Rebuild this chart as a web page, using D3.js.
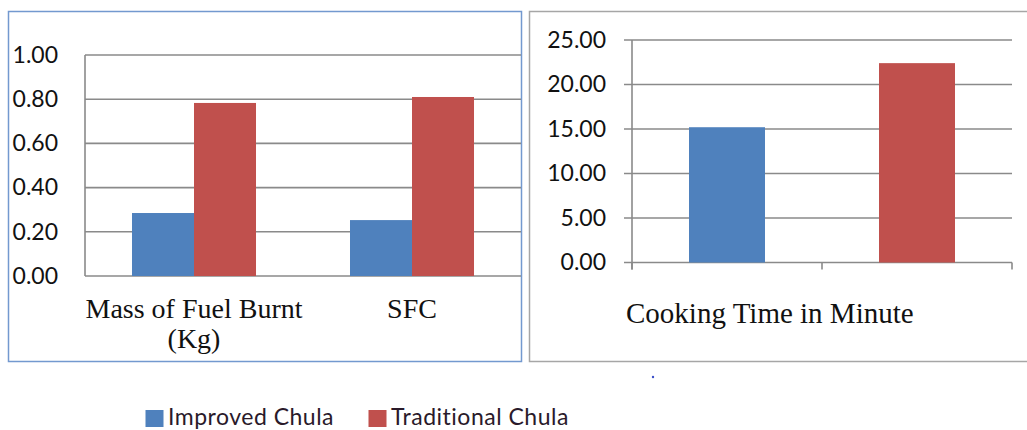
<!DOCTYPE html>
<html><head><meta charset="utf-8">
<script src="https://cdn.jsdelivr.net/npm/d3@7"></script>
<style>
html,body{margin:0;padding:0;background:#fff;}
svg{display:block;}
.tick text{font-family:Lato,"Open Sans",sans-serif;font-size:23px;fill:#111;}
</style></head>
<body>
<svg id="c" width="1027" height="430"></svg>
<script>
// ---- data ----
const seriesNames = ["Improved Chula", "Traditional Chula"];
const seriesColors = ["#4f81bd", "#c0504d"];
const leftCategories = ["Mass of Fuel Burnt (Kg)", "SFC"];
const leftCategoryLines = [["Mass of Fuel Burnt", "(Kg)"], ["SFC"]];
const improvedLeft = [0.285, 0.253];
const traditionalLeft = [0.783, 0.81];
const leftTicks = [0, 0.2, 0.4, 0.6, 0.8, 1.0];
const cookingTime = [15.2, 22.4];       // Improved, Traditional
const rightTicks = [0, 5, 10, 15, 20, 25];
const rightTitle = "Cooking Time in Minute";

const svg = d3.select("#c");
const grid = "#8a8a8a";

// panel borders
svg.append("rect").attr("x", 8.5).attr("y", 11.5).attr("width", 513).attr("height", 350)
  .attr("fill", "none").attr("stroke", "#7399cf").attr("stroke-width", 1.5);
svg.append("rect").attr("x", 529.5).attr("y", 11.5).attr("width", 510).attr("height", 350)
  .attr("fill", "none").attr("stroke", "#a6a6a6").attr("stroke-width", 1.5);

// ---------- left chart ----------
const L = {x0: 85, x1: 521, y0: 276, y1: 55};
const yL = d3.scaleLinear().domain([0, 1]).range([L.y0, L.y1]);
const xL = d3.scaleBand().domain(leftCategories).range([L.x0, L.x1]).padding(0);
const xLin = d3.scaleBand().domain(seriesNames).range([0, xL.bandwidth()]).paddingInner(0).paddingOuter(0.758);

const gL = svg.append("g");
gL.append("clipPath").attr("id", "clipL").append("rect")
  .attr("x", 9).attr("y", 12).attr("width", 512).attr("height", 349);
const gLc = gL.append("g").attr("clip-path", "url(#clipL)");
gLc.selectAll("line.grid").data(leftTicks).join("line")
  .attr("x1", L.x0).attr("x2", L.x1 + 5)
  .attr("y1", d => yL(d)).attr("y2", d => yL(d))
  .attr("stroke", grid).attr("stroke-width", 1.6);
gLc.append("line").attr("x1", L.x0).attr("x2", L.x0).attr("y1", L.y1).attr("y2", L.y0)
  .attr("stroke", grid).attr("stroke-width", 1.6);

const leftData = [];
leftCategories.forEach((c, i) => {
  leftData.push({cat: c, s: seriesNames[0], v: improvedLeft[i], col: seriesColors[0]});
  leftData.push({cat: c, s: seriesNames[1], v: traditionalLeft[i], col: seriesColors[1]});
});
gLc.selectAll("rect.bar").data(leftData).join("rect")
  .attr("x", d => xL(d.cat) + xLin(d.s))
  .attr("width", xLin.bandwidth())
  .attr("y", d => yL(d.v))
  .attr("height", d => yL(0) - yL(d.v))
  .attr("fill", d => d.col);

const axL = d3.axisLeft(yL).tickValues(leftTicks).tickFormat(d3.format(".2f")).tickSize(0).tickPadding(27);
gL.append("g").attr("transform", `translate(${L.x0},0)`).call(axL)
  .call(g => g.select(".domain").remove());

leftCategories.forEach((c, i) => {
  const t = gL.append("text").attr("text-anchor", "middle")
    .attr("font-family", "'Liberation Serif','Times New Roman',serif")
    .attr("font-size", 28).attr("fill", "#111");
  leftCategoryLines[i].forEach((ln, j) => {
    t.append("tspan").attr("x", xL(c) + xL.bandwidth() / 2).attr("y", 318 + j * 30).text(ln);
  });
});

// ---------- right chart ----------
const R = {x0: 632, x1: 1012, y0: 262.5, y1: 40};
const yR = d3.scaleLinear().domain([0, 25]).range([R.y0, R.y1]);
const xR = d3.scaleBand().domain(seriesNames).range([R.x0, R.x1]).paddingInner(0.6).paddingOuter(0.3);
const gR = svg.append("g");
gR.selectAll("line.grid").data(rightTicks).join("line")
  .attr("x1", R.x0 - 8).attr("x2", R.x1)
  .attr("y1", d => yR(d)).attr("y2", d => yR(d))
  .attr("stroke", grid).attr("stroke-width", 1.6);
gR.append("line").attr("x1", R.x0).attr("x2", R.x0).attr("y1", R.y1).attr("y2", R.y0 + 7)
  .attr("stroke", grid).attr("stroke-width", 1.6);
// category boundary ticks
const bounds = [R.x0, R.x0 + xR.step(), R.x1];
gR.selectAll("line.ct").data(bounds).join("line")
  .attr("x1", d => d).attr("x2", d => d).attr("y1", R.y0).attr("y2", R.y0 + 7)
  .attr("stroke", grid).attr("stroke-width", 1.6);

gR.selectAll("rect.bar").data(seriesNames).join("rect")
  .attr("x", d => xR(d)).attr("width", xR.bandwidth())
  .attr("y", (d, i) => yR(cookingTime[i]))
  .attr("height", (d, i) => yR(0) - yR(cookingTime[i]))
  .attr("fill", (d, i) => seriesColors[i]);

const axR = d3.axisLeft(yR).tickValues(rightTicks).tickFormat(d3.format(".2f")).tickSize(0).tickPadding(26);
gR.append("g").attr("transform", `translate(${R.x0},0)`).call(axR)
  .call(g => g.select(".domain").remove());

gR.append("text").attr("x", 626).attr("y", 323)
  .attr("font-family", "'Liberation Serif','Times New Roman',serif")
  .attr("font-size", 29).attr("fill", "#111").text(rightTitle);

// stray dot
svg.append("circle").attr("cx", 653).attr("cy", 377).attr("r", 1.2).attr("fill", "#3b4fc8");

// ---------- legend ----------
const legX = [145.5, 368.5];
const leg = svg.append("g");
seriesNames.forEach((s, i) => {
  leg.append("rect").attr("x", legX[i]).attr("y", 410).attr("width", 18).attr("height", 17)
    .attr("fill", seriesColors[i]);
  leg.append("text").attr("x", legX[i] + 22.5).attr("y", 424.5)
    .attr("font-family", "Lato,'Open Sans',sans-serif").attr("font-size", 23)
    .attr("letter-spacing", 0.5)
    .attr("fill", "#2a1a2a").text(s);
});
</script>
</body></html>
